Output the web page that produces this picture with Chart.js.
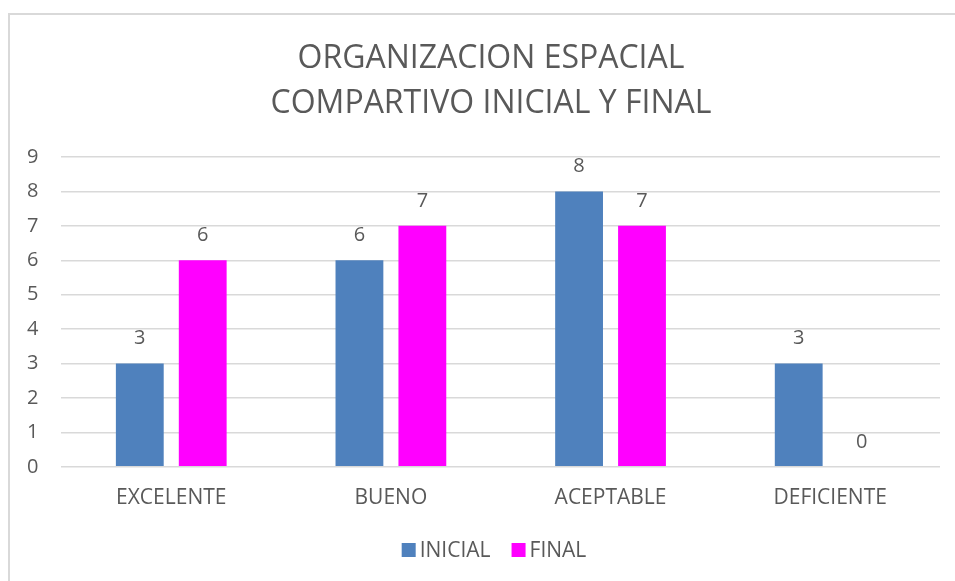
<!DOCTYPE html>
<html><head><meta charset="utf-8">
<script src="https://cdn.jsdelivr.net/npm/chart.js@4/dist/chart.umd.min.js"></script>
<style>
html,body{margin:0;padding:0;background:#fff;overflow:hidden}
#wrap{position:absolute;left:0;top:0;width:955px;height:581px}
#frame{position:absolute;left:8px;top:13px;width:1000px;height:600px;border-left:2px solid #d9d9d9;border-top:2px solid #d9d9d9;pointer-events:none}
</style></head>
<body>
<div id="wrap"><canvas id="c" width="955" height="581"></canvas></div>
<div id="frame"></div>
<script>
const categories = ["EXCELENTE", "BUENO", "ACEPTABLE", "DEFICIENTE"];
const inicialValues = [3, 6, 8, 3];
const finalValues = [6, 7, 7, 0];
const titleLines = ["ORGANIZACION ESPACIAL", "COMPARTIVO INICIAL Y FINAL"];
const yTicks = [0,1,2,3,4,5,6,7,8,9];

const FONT = "'Open Sans', 'Noto Sans', sans-serif";
const TXT = '#595959';

const titlePlugin = {
  id: 'twoLineTitle',
  afterDraw(chart) {
    const ctx = chart.ctx;
    ctx.save();
    ctx.fillStyle = TXT;
    ctx.font = "32px " + FONT;
    ctx.textAlign = 'center';
    ctx.textBaseline = 'middle';
    const cx = 491;
    titleLines.forEach((t, i) => ctx.fillText(t, cx, 59 + i * 45));
    ctx.restore();
  }
};

const legendPlugin = {
  id: 'customLegend',
  afterDraw(chart) {
    const ctx = chart.ctx;
    ctx.save();
    ctx.font = "21px " + FONT;
    ctx.textBaseline = 'middle';
    ctx.textAlign = 'left';
    const box = 14, gap = 4, spacing = 21, cy = 550, cx = 494;
    const items = chart.data.datasets.map(ds => ({ text: ds.label, color: ds.backgroundColor, w: ctx.measureText(ds.label).width }));
    let total = 0;
    items.forEach((it, i) => { total += box + gap + it.w + (i < items.length - 1 ? spacing : 0); });
    let x = cx - total / 2;
    items.forEach(it => {
      ctx.fillStyle = it.color;
      ctx.fillRect(x, cy - box / 2, box, box);
      ctx.fillStyle = TXT;
      ctx.fillText(it.text, x + box + gap, cy + 1);
      x += box + gap + it.w + spacing;
    });
    ctx.restore();
  }
};

const labelPlugin = {
  id: 'valueLabels',
  afterDatasetsDraw(chart) {
    const ctx = chart.ctx;
    ctx.save();
    ctx.fillStyle = TXT;
    ctx.font = "20px " + FONT;
    ctx.textAlign = 'center';
    ctx.textBaseline = 'middle';
    chart.data.datasets.forEach((ds, i) => {
      const meta = chart.getDatasetMeta(i);
      meta.data.forEach((bar, j) => {
        ctx.fillText(String(ds.data[j]), bar.x, bar.y - 25);
      });
    });
    ctx.restore();
  }
};

new Chart(document.getElementById('c'), {
  type: 'bar',
  data: {
    labels: categories,
    datasets: [
      { label: 'INICIAL', data: inicialValues, backgroundColor: '#4f81bd', borderWidth: 0 },
      { label: 'FINAL', data: finalValues, backgroundColor: '#ff00ff', borderWidth: 0 }
    ]
  },
  options: {
    responsive: false,
    animation: false,
    layout: { padding: { left: 4, right: 15, top: 157, bottom: 54 } },
    datasets: { bar: { categoryPercentage: 0.573, barPercentage: 0.76 } },
    plugins: {
      title: { display: false },
      legend: { display: false },
      tooltip: { enabled: false }
    },
    scales: {
      x: {
        grid: { display: false },
        border: { display: false },
        ticks: { color: TXT, font: { family: FONT, size: 21 }, padding: 11 },
        afterFit(scale) { scale.height += 5; }
      },
      y: {
        min: 0, max: 9,
        afterBuildTicks(axis) { axis.ticks = yTicks.map(v => ({ value: v })); },
        grid: { color: '#d9d9d9', lineWidth: 1.5, drawTicks: false },
        border: { display: false },
        ticks: { color: TXT, font: { family: FONT, size: 20 }, padding: 23 }
      }
    }
  },
  plugins: [labelPlugin, titlePlugin, legendPlugin]
});
</script>
</body></html>
